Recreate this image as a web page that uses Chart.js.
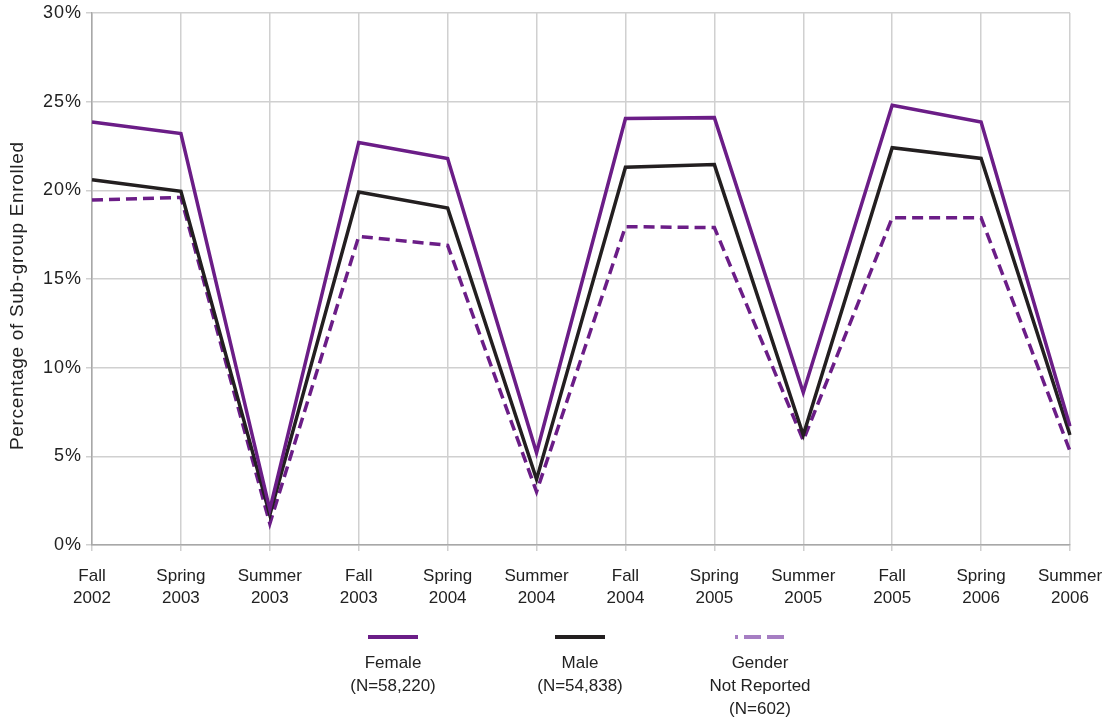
<!DOCTYPE html>
<html><head><meta charset="utf-8">
<script src="https://cdn.jsdelivr.net/npm/chart.js@4.4.1/dist/chart.umd.min.js"></script>
<style>html,body{margin:0;padding:0;background:#fff}#wrap{width:1106px;height:719px;position:relative}</style>
</head><body><div id="wrap"><canvas id="c" width="1106" height="719"></canvas></div>
<script>
const categories = [["Fall","2002"],["Spring","2003"],["Summer","2003"],["Fall","2003"],["Spring","2004"],["Summer","2004"],["Fall","2004"],["Spring","2005"],["Summer","2005"],["Fall","2005"],["Spring","2006"],["Summer","2006"]];
const female = [23.85, 23.2, 2.0, 22.7, 21.8, 5.2, 24.05, 24.1, 8.6, 24.8, 23.85, 6.7];
const male = [20.6, 19.95, 1.7, 19.9, 19.0, 3.7, 21.3, 21.45, 6.2, 22.4, 21.8, 6.2];
const notReported = [19.45, 19.6, 1.2, 17.4, 16.9, 3.0, 17.95, 17.9, 5.9, 18.45, 18.45, 5.3];
const yTickLabels = ["0%","5%","10%","15%","20%","25%","30%"];
const legendLabels = [["Female","(N=58,220)"],["Male","(N=54,838)"],["Gender","Not Reported","(N=602)"]];
const yTitle = "Percentage of Sub-group Enrolled";

const PURPLE = '#6b1d87', BLACK = '#231f20', LIGHTPURPLE = '#a67ec3';
const FONT = '"Liberation Sans", Arial, sans-serif';

const extrasPlugin = {
  id: 'extras',
  afterUpdate(chart) {
    const y = chart.scales.y;
    if (!y._spaced) {
      const orig = Object.getPrototypeOf(y).drawLabels;
      y.drawLabels = function (area) {
        const ctx = this.ctx;
        ctx.save();
        ctx.letterSpacing = '1px';
        orig.call(this, area);
        ctx.restore();
      };
      y._spaced = true;
    }
  },
  afterDraw(chart) {
    const ctx = chart.ctx;
    ctx.save();
    ctx.font = '19px ' + FONT;
    ctx.fillStyle = '#222';
    const w0 = ctx.measureText(yTitle).width;
    const sp = Math.max(0, (308 - w0) / (yTitle.length - 1));
    ctx.letterSpacing = sp.toFixed(2) + 'px';
    ctx.translate(18, 296);
    ctx.rotate(-Math.PI / 2);
    ctx.textAlign = 'center';
    ctx.textBaseline = 'middle';
    ctx.fillText(yTitle, sp / 2, 0);
    ctx.restore();

    ctx.save();
    const items = [
      {cx: 393, color: PURPLE, dash: [], labels: legendLabels[0]},
      {cx: 580, color: BLACK, dash: [], labels: legendLabels[1]},
      {cx: 760, color: LIGHTPURPLE, dash: [3, 6, 17, 6, 17, 20], labels: legendLabels[2]}
    ];
    items.forEach(it => {
      ctx.beginPath();
      ctx.strokeStyle = it.color;
      ctx.lineWidth = 4;
      ctx.setLineDash(it.dash);
      ctx.lineCap = 'butt';
      ctx.moveTo(it.cx - 25, 637);
      ctx.lineTo(it.cx + 25, 637);
      ctx.stroke();
      ctx.setLineDash([]);
      ctx.fillStyle = '#222';
      ctx.font = '17px ' + FONT;
      ctx.textAlign = 'center';
      ctx.textBaseline = 'middle';
      it.labels.forEach((t, i) => ctx.fillText(t, it.cx, 663 + i * 23));
    });
    ctx.restore();
  }
};

new Chart(document.getElementById('c'), {
  type: 'line',
  data: {
    labels: categories,
    datasets: [
      {label: 'Female', data: female, borderColor: PURPLE, borderWidth: 3.5, pointRadius: 0, tension: 0, fill: false},
      {label: 'Male', data: male, borderColor: BLACK, borderWidth: 3.5, pointRadius: 0, tension: 0, fill: false},
      {label: 'Gender Not Reported', data: notReported, borderColor: PURPLE, borderWidth: 3.5, borderDash: [11, 6], pointRadius: 0, tension: 0, fill: false}
    ]
  },
  options: {
    responsive: false,
    animation: false,
    devicePixelRatio: 1,
    layout: {padding: {left: 0, right: 36, top: 13, bottom: 114}},
    plugins: {legend: {display: false}, tooltip: {enabled: false}},
    scales: {
      x: {
        offset: false,
        grid: {color: '#d0d0d0', lineWidth: 1.5, tickLength: 6, drawTicks: true},
        border: {color: '#a8a8a8', width: 1.5},
        ticks: {color: '#222', font: {family: FONT, size: 17, lineHeight: 1.3}, padding: 14, maxRotation: 0, autoSkip: false},
        afterFit(s) { s.height = 60; s.paddingRight = 0; s.paddingLeft = 0; }
      },
      y: {
        min: 0, max: 30,
        grid: {color: '#d0d0d0', lineWidth: 1.5, tickLength: 6},
        border: {color: '#a8a8a8', width: 1.5},
        ticks: {stepSize: 5, color: '#222', font: {family: FONT, size: 18}, padding: 4,
          callback: (v) => yTickLabels[Math.round(v / 5)]},
        title: {display: false},
        afterFit(s) { s.width = 92; s.paddingTop = 0; s.paddingBottom = 0; }
      }
    }
  },
  plugins: [extrasPlugin]
});
</script></body></html>
